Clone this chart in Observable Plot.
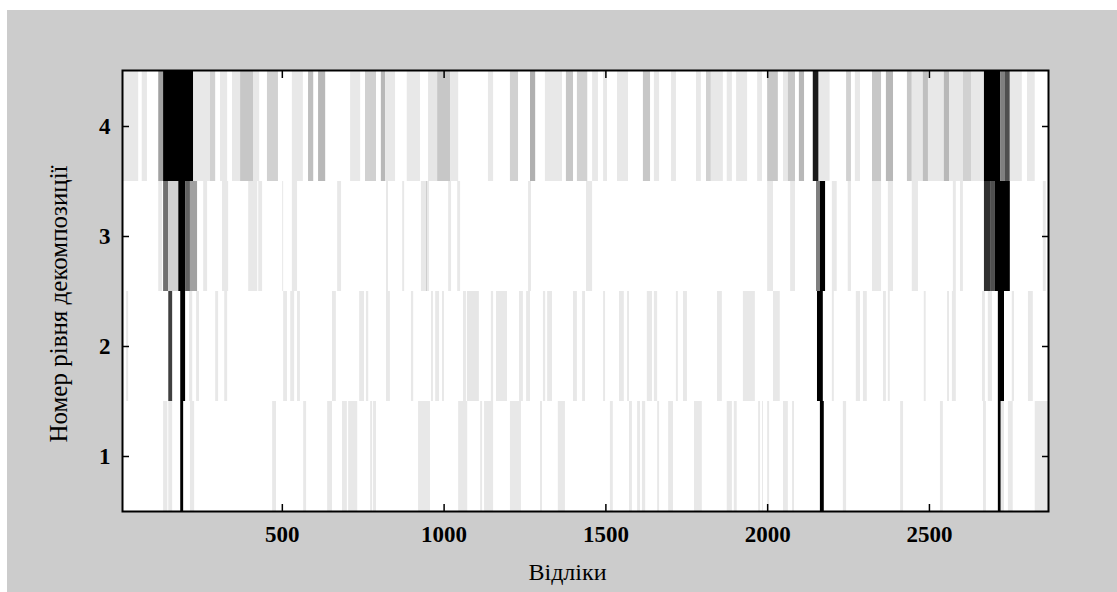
<!DOCTYPE html>
<html>
<head>
<meta charset="utf-8">
<script src="https://cdn.jsdelivr.net/npm/d3@7"></script>
<script src="https://cdn.jsdelivr.net/npm/@observablehq/plot@0.6"></script>
<style>
  html, body { margin: 0; padding: 0; background: #ffffff; }
  #chart { position: absolute; left: 7px; top: 10px; width: 1110px; height: 582px; background: #cccccc; }
  #chart svg { display: block; }
</style>
</head>
<body>
<div id="chart"></div>
<script>
// Stripes per decomposition level: [start sample, end sample, intensity 0..1]
const level4 = [
  [6,56,0.09],[67,83,0.09],[118,133,0.37],[133,226,1],[226,278,0.09],[278,294,0.18],[309,331,0.09],
  [346,371,0.09],[371,411,0.22],[411,430,0.09],[454,488,0.18],[531,565,0.09],[581,597,0.25],[612,634,0.28],
  [711,742,0.09],[757,791,0.18],[806,819,0.28],[819,850,0.09],[886,927,0.09],[952,980,0.1],[980,1020,0.22],
  [1020,1045,0.09],[1137,1153,0.09],[1205,1230,0.18],[1267,1283,0.31],[1313,1366,0.09],[1378,1400,0.22],
  [1412,1444,0.18],[1459,1477,0.09],[1493,1505,0.09],[1536,1570,0.09],[1616,1638,0.22],[1650,1666,0.09],
  [1703,1718,0.09],[1780,1795,0.09],[1811,1826,0.18],[1826,1863,0.09],[1875,1891,0.09],[1904,1938,0.09],
  [1969,1984,0.09],[2000,2033,0.22],[2049,2064,0.09],[2064,2086,0.22],[2098,2114,0.28],[2141,2159,0.9],
  [2159,2193,0.09],[2244,2259,0.18],[2271,2287,0.09],[2324,2352,0.22],[2367,2389,0.28],[2432,2447,0.22],
  [2447,2481,0.09],[2481,2497,0.25],[2497,2546,0.09],[2546,2562,0.28],[2562,2605,0.09],[2605,2630,0.18],
  [2630,2670,0.09],[2670,2720,1],[2720,2735,0.5],[2735,2750,0.69],[2750,2787,0.09],[2803,2827,0.09]
];
const level3 = [
  [118,130,0.09],[133,149,0.56],[149,180,0.18],[180,201,1],[201,216,0.62],[216,238,0.37],[257,269,0.09],
  [315,334,0.09],[396,424,0.09],[427,439,0.09],[501,504,0.09],[531,547,0.09],[671,683,0.09],[822,828,0.09],
  [872,878,0.09],[930,946,0.09],[946,950,0.22],[950,955,0.09],[1014,1023,0.09],[1042,1051,0.09],
  [1261,1270,0.09],[1440,1459,0.09],[2000,2018,0.09],[2071,2086,0.09],[2151,2163,0.5],[2163,2179,1],
  [2200,2215,0.09],[2249,2259,0.09],[2324,2352,0.09],[2373,2389,0.09],[2447,2466,0.09],[2574,2583,0.09],
  [2596,2605,0.09],[2670,2689,0.81],[2689,2704,0.69],[2704,2750,1],[2852,2861,0.09]
];
const level2 = [
  [19,25,0.09],[149,161,0.75],[186,201,1],[213,223,0.09],[235,244,0.09],[294,303,0.09],[322,331,0.09],
  [504,516,0.09],[526,538,0.09],[547,556,0.09],[655,667,0.09],[739,754,0.09],[760,767,0.09],[822,834,0.09],
  [899,906,0.09],[961,967,0.09],[974,986,0.09],[995,1001,0.09],[1060,1069,0.09],[1072,1109,0.1],
  [1146,1153,0.09],[1162,1196,0.09],[1233,1245,0.09],[1255,1267,0.09],[1307,1314,0.09],[1320,1335,0.09],
  [1400,1412,0.09],[1428,1437,0.09],[1493,1499,0.09],[1542,1557,0.09],[1567,1573,0.09],[1628,1644,0.09],
  [1650,1660,0.09],[1718,1724,0.09],[1740,1752,0.09],[1845,1860,0.09],[1925,1962,0.09],[2018,2039,0.09],
  [2154,2172,1],[2200,2206,0.09],[2274,2287,0.09],[2296,2308,0.09],[2358,2367,0.09],[2373,2379,0.09],
  [2484,2490,0.09],[2556,2562,0.09],[2571,2583,0.09],[2664,2673,0.09],[2682,2695,0.09],[2713,2732,1],
  [2756,2763,0.09],[2806,2821,0.09]
];
const level1 = [
  [133,146,0.09],[149,161,0.09],[186,195,1],[216,229,0.09],[470,482,0.09],[566,575,0.09],[640,655,0.09],
  [686,701,0.09],[705,733,0.09],[773,779,0.09],[782,791,0.09],[921,958,0.09],[1045,1073,0.09],
  [1113,1119,0.09],[1125,1153,0.09],[1205,1239,0.09],[1298,1304,0.09],[1353,1375,0.09],[1514,1523,0.09],
  [1573,1582,0.09],[1598,1607,0.09],[1613,1623,0.09],[1660,1666,0.09],[1694,1709,0.09],[1774,1798,0.09],
  [1875,1891,0.09],[1897,1906,0.09],[1972,1978,0.09],[1984,1987,0.09],[2000,2006,0.09],[2049,2064,0.09],
  [2077,2083,0.09],[2163,2175,1],[2234,2244,0.09],[2411,2420,0.09],[2534,2543,0.09],[2667,2676,0.09],
  [2713,2722,1],[2722,2732,0.09],[2744,2759,0.09],[2827,2868,0.09]
];
const levels = [4, 3, 2, 1];
const xTicks = [500, 1000, 1500, 2000, 2500];
const xDomain = [6, 2868];
const xLabel = "Відліки";
const yLabel = "Номер рівня декомпозиції";

const rows = [[4, level4], [3, level3], [2, level2], [1, level1]];
const data = rows.flatMap(([level, arr]) => arr.map(([x1, x2, v]) => ({level, x1, x2, v})));

const font = "'Liberation Serif', 'Times New Roman', serif";
const chart = Plot.plot({
  width: 1110,
  height: 582,
  marginLeft: 115,
  marginRight: 69,
  marginTop: 60,
  marginBottom: 81,
  style: {fontFamily: font, background: "transparent", color: "black"},
  x: {domain: xDomain, label: null},
  y: {type: "band", domain: levels, padding: 0, label: null},
  color: {type: "linear", domain: [0, 1], range: ["#ffffff", "#000000"], interpolate: "rgb"},
  marks: [
    Plot.frame({fill: "white", stroke: null}),
    Plot.barX(data, {x1: "x1", x2: "x2", y: "level", fill: "v"}),
    Plot.axisX(xTicks, {anchor: "bottom", tickSize: -7, tickPadding: 21, fontSize: 23, fontWeight: "bold", tickFormat: d => String(d), strokeWidth: 1.5, label: null}),
    Plot.axisX(xTicks, {anchor: "top", tickSize: -7, tickFormat: () => "", strokeWidth: 1.5, label: null}),
    Plot.axisY(levels, {anchor: "left", tickSize: -7, tickPadding: 19, fontSize: 23, fontWeight: "bold", tickFormat: d => String(d), strokeWidth: 1.5, label: null}),
    Plot.axisY(levels, {anchor: "right", tickSize: -7, tickFormat: () => "", strokeWidth: 1.5, label: null}),
    Plot.frame({stroke: "black", strokeWidth: 2}),
    Plot.text([xLabel], {frameAnchor: "bottom", textAnchor: "middle", lineAnchor: "middle", dx: -18, dy: 61, fontSize: 24, fill: "black"}),
    Plot.text([yLabel], {frameAnchor: "left", textAnchor: "middle", lineAnchor: "middle", dx: -64, dy: 13, rotate: -90, fontSize: 25, fill: "black"})
  ]
});
document.getElementById("chart").appendChild(chart);
</script>
</body>
</html>
